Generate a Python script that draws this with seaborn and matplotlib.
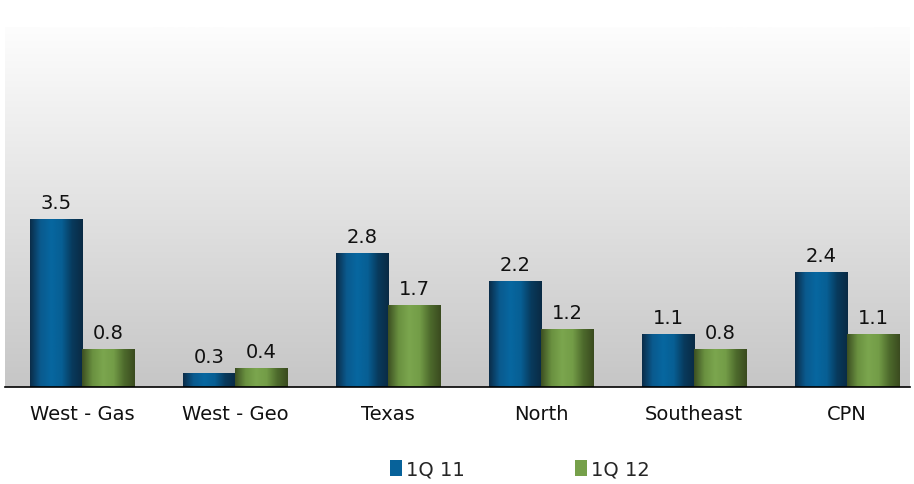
import numpy as np
import pandas as pd
import matplotlib
matplotlib.use("Agg")
import matplotlib.pyplot as plt
import seaborn as sns
from matplotlib.colors import LinearSegmentedColormap
from matplotlib.patches import Patch

categories = ["West - Gas", "West - Geo", "Texas", "North", "Southeast", "CPN"]
series_names = ["1Q 11", "1Q 12"]
q1_11 = [3.5, 0.3, 2.8, 2.2, 1.1, 2.4]
q1_12 = [0.8, 0.4, 1.7, 1.2, 0.8, 1.1]

df = pd.DataFrame({
    "category": categories * 2,
    "series": [series_names[0]] * len(categories) + [series_names[1]] * len(categories),
    "value": q1_11 + q1_12,
})

sns.set_style("white")
plt.rcParams["font.family"] = ["DejaVu Sans"]

fig = plt.figure(figsize=(9.14, 4.85), dpi=100)
ax = fig.add_axes([5 / 914, 1 - 388 / 485, 905 / 914, (388 - 28) / 485])

mid_colors = {"1Q 11": "#07629a", "1Q 12": "#76a04a"}
sns.barplot(data=df, x="category", y="value", hue="series", palette=mid_colors,
            width=0.68, ax=ax, legend=False, saturation=1)

ax.set_xlim(-0.503, 5.41)
ax.set_ylim(0, 7.5)

# background gradient
bg = LinearSegmentedColormap.from_list("bg", ["#c6c6c6", "#e2e2e2", "#fdfdfd"])
grad = np.linspace(0, 1, 256).reshape(-1, 1)
ax.imshow(grad, cmap=bg, aspect="auto", extent=[-0.503, 5.41, 0, 7.5],
          origin="lower", zorder=0)

cmaps = {
    "1Q 11": LinearSegmentedColormap.from_list(
        "b", ["#0b2c48", "#0a5a8e", "#0767a0", "#075f94", "#083a5c", "#0a2a44"]),
    "1Q 12": LinearSegmentedColormap.from_list(
        "g", ["#3c4f22", "#6a9140", "#7ba64e", "#739c47", "#4d6a2c", "#3a4a1f"]),
}
hgrad = np.linspace(0, 1, 256).reshape(1, -1)
for container, name in zip(ax.containers, series_names):
    for bar in container:
        x0 = bar.get_x()
        w = bar.get_width()
        h = bar.get_height()
        bar.set_facecolor("none")
        bar.set_edgecolor("none")
        im = ax.imshow(hgrad, cmap=cmaps[name], aspect="auto",
                       extent=[x0, x0 + w, 0, h], zorder=2)
        im.set_clip_path(bar)
    ax.bar_label(container, fmt="%.1f", padding=5, fontsize=14, color="#111111")

ax.set_xlim(-0.503, 5.41)
ax.set_ylim(0, 7.5)
ax.set_xlabel("")
ax.set_ylabel("")
ax.set_yticks([])
ax.tick_params(axis="x", length=0, pad=12, labelsize=14, colors="#111111")
for s in ["top", "left", "right"]:
    ax.spines[s].set_visible(False)
ax.spines["bottom"].set_color("black")
ax.spines["bottom"].set_linewidth(1.2)

handles = [Patch(facecolor=mid_colors[n], edgecolor="none", label=n) for n in series_names]
fig.legend(handles=handles, loc="center", bbox_to_anchor=(520 / 914, 1 - 470 / 485),
           ncol=2, frameon=False, fontsize=14, handlelength=0.6, handleheight=0.9,
           handletextpad=0.2, columnspacing=5.7)

fig.savefig("out.png", dpi=100)
